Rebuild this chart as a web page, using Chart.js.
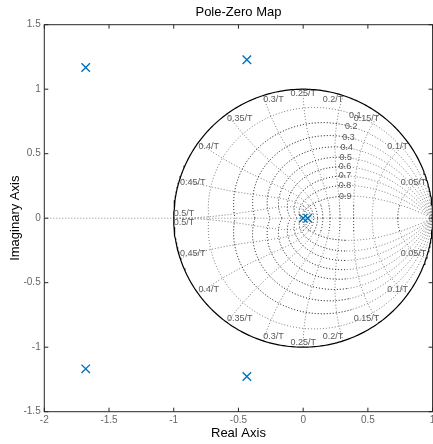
<!DOCTYPE html>
<html><head><meta charset="utf-8">
<script src="https://cdn.jsdelivr.net/npm/chart.js"></script>
<style>html,body{margin:0;padding:0;overflow:hidden;background:#fff;width:433px;height:444px}canvas{display:block}</style>
</head><body>
<canvas id="c" width="440" height="444" style="width:440px;height:444px"></canvas>
<script>
// ---- data ----
const xTicks = [-2, -1.5, -1, -0.5, 0, 0.5, 1];
const xTickLabels = ['-2', '-1.5', '-1', '-0.5', '0', '0.5', '1'];
const yTicks = [-1.5, -1, -0.5, 0, 0.5, 1, 1.5];
const yTickLabels = ['-1.5', '-1', '-0.5', '0', '0.5', '1', '1.5'];
const poleRe = [-1.68, -1.68, -0.435, -0.435, 0.0, 0.035];
const poleIm = [1.168, -1.168, 1.228, -1.228, 0.0, 0.0];
const dampingRatios = [0.1, 0.2, 0.3, 0.4, 0.5, 0.6, 0.7, 0.8, 0.9];
const dampingLabels = ['0.1', '0.2', '0.3', '0.4', '0.5', '0.6', '0.7', '0.8', '0.9'];
const natFreqs = [0.05, 0.1, 0.15, 0.2, 0.25, 0.3, 0.35, 0.4, 0.45, 0.5];
const natFreqLabels = ['0.05/T', '0.1/T', '0.15/T', '0.2/T', '0.25/T', '0.3/T', '0.35/T', '0.4/T', '0.45/T', '0.5/T'];
const zetaLabelPos = 1.11; // wnT at which damping labels sit

// ---- z-plane grid construction (zgrid) ----
const FONT = '"Liberation Sans", Arial, Helvetica, sans-serif';
const gridGray = [], gridDark = [];
function addCurve(target, pts) { if (target.length) target.push({x: null, y: null}); target.push(...pts); }
function spiralPt(z, t) { const r = Math.exp(-z * t), a = t * Math.sqrt(1 - z * z); return {x: r * Math.cos(a), y: r * Math.sin(a)}; }
function spiral(z, t0, t1, n) { const p = []; for (let i = 0; i <= n; i++) p.push(spiralPt(z, t0 + (t1 - t0) * i / n)); return p; }
function mirror(pts) { return pts.map(p => ({x: p.x, y: -p.y})); }
dampingRatios.forEach(z => {
  const tEnd = Math.PI / Math.sqrt(1 - z * z);
  if (z < 0.15) {
    const p = spiral(z, 0, tEnd, 300);
    addCurve(gridGray, p); addCurve(gridGray, mirror(p));
  } else {
    const g = spiral(z, 0, zetaLabelPos, 120), d = spiral(z, zetaLabelPos, tEnd, 300);
    addCurve(gridGray, g); addCurve(gridGray, mirror(g));
    addCurve(gridDark, d); addCurve(gridDark, mirror(d));
  }
});
function addSplit(pts, pred) {
  let cur = [pts[0]], dark = pred(pts[0]);
  for (let i = 1; i < pts.length; i++) {
    const d = pred(pts[i]);
    cur.push(pts[i]);
    if (d !== dark) { addCurve(dark ? gridDark : gridGray, cur); cur = [pts[i]]; dark = d; }
  }
  addCurve(dark ? gridDark : gridGray, cur);
}
natFreqs.forEach(k => {
  const p = [];
  for (let i = 0; i <= 200; i++) {
    const ph = (Math.PI / 2) * i / 200, z = Math.sin(ph);
    const r = Math.exp(-2 * Math.PI * k * z), a = 2 * Math.PI * k * Math.cos(ph);
    p.push({x: r * Math.cos(a), y: r * Math.sin(a)});
  }
  const pred = q => Math.abs(q.y) < 0.1 && q.x > 0 && k !== 0.1;
  addSplit(p, pred); addSplit(mirror(p), pred);
});
const unitCircle = [];
for (let i = 0; i <= 360; i++) { const a = Math.PI * 2 * i / 360; unitCircle.push({x: Math.cos(a), y: Math.sin(a)}); }

const poles = poleRe.map((r, i) => ({x: r, y: poleIm[i]}));

const overlay = {
  id: 'overlay',
  afterDatasetsDraw(chart) {
    const {ctx, chartArea: a, scales: {x, y}} = chart;
    ctx.save();
    ctx.font = '9px ' + FONT;
    ctx.fillStyle = '#5a5a5a';
    natFreqs.forEach((k, i) => {
      const ang = 2 * Math.PI * k;
      const px = x.getPixelForValue(Math.cos(ang));
      ctx.textAlign = k < 0.25 ? 'right' : (k > 0.25 ? 'left' : 'center');
      ctx.textBaseline = k === 0.5 ? 'bottom' : 'top';
      ctx.fillText(natFreqLabels[i], px, y.getPixelForValue(Math.sin(ang)));
      ctx.textBaseline = k === 0.5 ? 'top' : 'bottom';
      ctx.fillText(natFreqLabels[i], px, y.getPixelForValue(-Math.sin(ang)));
    });
    ctx.textAlign = 'center'; ctx.textBaseline = 'middle';
    dampingRatios.forEach((z, i) => {
      const p = spiralPt(z, zetaLabelPos);
      ctx.fillText(dampingLabels[i], x.getPixelForValue(p.x), y.getPixelForValue(p.y));
    });
    ctx.strokeStyle = '#262626'; ctx.lineWidth = 1;
    ctx.strokeRect(a.left, a.top, a.right - a.left, a.bottom - a.top);
    ctx.beginPath();
    xTicks.forEach(v => {
      const px = x.getPixelForValue(v);
      ctx.moveTo(px, a.bottom); ctx.lineTo(px, a.bottom - 4);
      ctx.moveTo(px, a.top); ctx.lineTo(px, a.top + 4);
    });
    yTicks.forEach(v => {
      const py = y.getPixelForValue(v);
      ctx.moveTo(a.left, py); ctx.lineTo(a.left + 4, py);
      ctx.moveTo(a.right, py); ctx.lineTo(a.right - 4, py);
    });
    ctx.stroke();
    ctx.restore();
  }
};

const line = (data, color, dash, order, w) => ({
  type: 'scatter', data, showLine: true, pointRadius: 0, borderColor: color,
  borderWidth: w || 1, borderDash: dash, fill: false, order, spanGaps: false, tension: 0
});

new Chart(document.getElementById('c'), {
  type: 'scatter',
  data: {
    datasets: [
      {data: poles, pointStyle: 'crossRot', pointRadius: 6, pointBorderWidth: 1.4,
       borderColor: '#0072BD', backgroundColor: '#0072BD', showLine: false, order: 0},
      line(unitCircle, '#000', [], 1, 1.2),
      line(gridDark, '#000', [1, 2], 2),
      line(gridGray, '#777', [1, 2], 3),
      line([{x: -2, y: 0}, {x: 1, y: 0}], '#8a8a8a', [1, 2], 4)
    ]
  },
  options: {
    responsive: false, animation: false, devicePixelRatio: 1, events: [],
    layout: {padding: {left: 0, right: 6.7, top: 0, bottom: 0}},
    plugins: {legend: {display: false}, tooltip: {enabled: false}},
    scales: {
      x: {
        type: 'linear', position: 'bottom', min: -2, max: 1,
        afterBuildTicks: s => { s.ticks = xTicks.map(v => ({value: v})); },
        ticks: {callback: (v, i) => xTickLabels[i], font: {family: FONT, size: 10}, color: '#666', padding: 3, maxRotation: 0, autoSkip: false},
        grid: {display: false, drawTicks: false}, border: {display: false},
        title: {display: true, text: 'Real Axis', font: {family: FONT, size: 13}, color: '#000', padding: {top: 0, bottom: 2.8}},
        afterFit: s => { s.height = 32.3; }
      },
      x2: {
        type: 'linear', position: 'top', min: -2, max: 1,
        ticks: {display: false}, grid: {display: false, drawTicks: false}, border: {display: false},
        title: {display: true, text: 'Pole-Zero Map', font: {family: FONT, size: 13}, color: '#000', padding: {top: 5, bottom: 0}},
        afterFit: s => { s.height = 24.7; }
      },
      y: {
        type: 'linear', position: 'left', min: -1.5, max: 1.5,
        afterBuildTicks: s => { s.ticks = yTicks.map(v => ({value: v})); },
        ticks: {callback: (v, i) => yTickLabels[i], font: {family: FONT, size: 10}, color: '#666', padding: 3.6, autoSkip: false},
        grid: {display: false, drawTicks: false}, border: {display: false},
        title: {display: true, text: 'Imaginary Axis', font: {family: FONT, size: 13}, color: '#000', padding: {top: 7.6, bottom: 0}},
        afterFit: s => { s.width = 44.3; }
      }
    }
  },
  plugins: [overlay]
});
</script>
</body></html>
